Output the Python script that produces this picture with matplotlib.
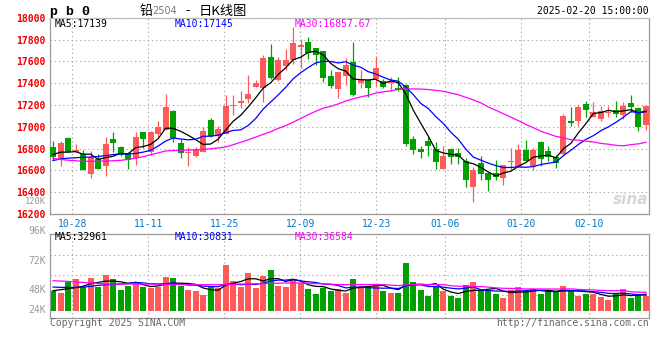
import numpy as np
import pandas as pd
import matplotlib
matplotlib.use('Agg')
import matplotlib.pyplot as plt

# ---- data (pb2504 daily, 10-23 .. 02-20) ----
opens = [16815, 16706, 16898, 16770, 16748, 16565, 16706, 16644, 16886, 16815,
         16757, 16718, 16953, 16764, 16931, 16971, 17145, 16852, 16760, 16736,
         16773, 17063, 16919, 16934, 17188, 17221, 17252, 17368, 17353, 17640,
         17426, 17560, 17612, 17734, 17777, 17722, 17695, 17466, 17350, 17466,
         17594, 17405, 17426, 17441, 17423, 17402, 17359, 17383, 16889, 16800,
         16870, 16800, 16614, 16797, 16760, 16687, 16443, 16669, 16577, 16577,
         16528, 16680, 16629, 16788, 16644, 16861, 16779, 16721, 16748, 17054,
         17054, 17206, 17093, 17069, 17130, 17151, 17105, 17218, 17170, 17017]
highs = [16870, 16870, 16907, 16843, 16788, 16779, 16748, 16904, 16950, 16820,
         16773, 16950, 16953, 16960, 17054, 17301, 17154, 16889, 16812, 16812,
         17002, 17078, 17008, 17289, 17289, 17325, 17475, 17426, 17658, 17756,
         17643, 17713, 17915, 17805, 17820, 17722, 17695, 17521, 17502, 17628,
         17774, 17521, 17426, 17649, 17438, 17457, 17457, 17392, 16919, 16828,
         16907, 16858, 16825, 16809, 16809, 16712, 16629, 16733, 16577, 16696,
         16651, 16803, 16843, 16880, 16809, 16870, 16825, 16742, 17118, 17182,
         17200, 17237, 17225, 17194, 17194, 17237, 17231, 17292, 17185, 17194]
lows = [16696, 16644, 16764, 16764, 16608, 16528, 16614, 16553, 16773, 16735,
        16614, 16650, 16809, 16742, 16910, 16971, 16858, 16718, 16644, 16727,
        16767, 16910, 16864, 16934, 17109, 17176, 17221, 17365, 17231, 17435,
        17417, 17521, 17573, 17536, 17624, 17566, 17414, 17353, 17267, 17383,
        17283, 17359, 17276, 17374, 17359, 17328, 17328, 16828, 16751, 16718,
        16736, 16614, 16614, 16663, 16660, 16452, 16306, 16516, 16415, 16516,
        16467, 16590, 16629, 16690, 16605, 16644, 16690, 16626, 16742, 17008,
        17008, 17093, 17093, 17054, 17093, 17093, 17069, 17139, 16965, 16971]
closes = [16727, 16852, 16770, 16788, 16608, 16727, 16614, 16843, 16855, 16742,
          16696, 16907, 16892, 16953, 16999, 17182, 16901, 16757, 16773, 16797,
          16962, 16919, 16980, 17191, 17200, 17234, 17301, 17399, 17634, 17450,
          17612, 17612, 17768, 17747, 17673, 17661, 17450, 17374, 17502, 17566,
          17292, 17426, 17359, 17539, 17365, 17417, 17338, 16846, 16791, 16764,
          16828, 16681, 16736, 16727, 16721, 16513, 16608, 16568, 16513, 16541,
          16651, 16690, 16788, 16690, 16788, 16702, 16727, 16672, 17102, 17038,
          17182, 17154, 17133, 17145, 17139, 17118, 17194, 17185, 17002, 17194]
volumes = [39960, 35300, 57940, 63270, 47950, 65270, 47950, 71260, 63270, 41290,
           49950, 57280, 47950, 44620, 47950, 67270, 65270, 49950, 41290, 39290,
           31300, 47950, 44620, 91240, 59270, 47950, 75260, 45290, 69260, 81250,
           49280, 47290, 63270, 55940, 43290, 33300, 44620, 39960, 43290, 35300,
           63270, 49950, 49950, 50620, 39290, 35300, 35300, 95240, 57280, 41290,
           29300, 47950, 39290, 29300, 25310, 51280, 57280, 41290, 39290, 33300,
           25310, 41290, 47290, 39290, 43290, 33300, 39290, 39290, 49280, 39290,
           29300, 33300, 33300, 27310, 21310, 33300, 43290, 25310, 33300, 29300]

# moving-average values at the left edge (need days before the window)
ma5_head = [16745, 16767, 16767, 16772]
ma10_head = [16690, 16705, 16712, 16716, 16720, 16722, 16727, 16735, 16745]
ma30_head = [16710, 16700, 16693, 16688, 16684, 16683, 16684, 16686, 16688, 16692,
             16700, 16712, 16725, 16742, 16760, 16778, 16782, 16784, 16786, 16788,
             16792, 16798, 16806, 16815, 16835, 16858, 16880, 16905, 16930]
vma5_head = [39960, 41960, 43960, 45950]
vma10_head = [47290, 46620, 46620, 46620, 47290, 48620, 50620, 51950, 52610]
vma30_head = [59940, 59270, 58610, 57280, 56610, 55280, 54610, 53280, 53280, 53280,
              53280, 53280, 53280, 53280, 53280, 52610, 52610, 51950, 51950, 51950,
              51950, 51950, 51950, 52610, 52610, 53280, 53280, 53950, 53950]

date_labels = ['10-28', '11-11', '11-25', '12-09', '12-23', '01-06', '01-20', '02-10']
date_idx = [3, 13, 23, 33, 43, 52, 62, 71]
price_ticks = list(range(16200, 18001, 200))
ma_texts = ['MA5:17139', 'MA10:17145', 'MA30:16857.67']
vma_texts = ['MA5:32961', 'MA10:30831', 'MA30:36584']
vol_labels = ['96K', '72K', '48K', '24K']


def ma(values, n, head):
    s = pd.Series(values, dtype=float).rolling(n).mean().to_numpy()
    s[:n - 1] = head
    return s


RED = '#ff5a5a'
GREEN = '#00a000'
GRID = dict(color='#aaaaaa', linestyle=(0, (1.2, 2.6)), linewidth=0.8)
MONO = 'DejaVu Sans Mono'

o = np.array(opens, float)
h = np.array(highs, float)
l = np.array(lows, float)
c = np.array(closes, float)
v = np.array(volumes, float)
x = np.arange(len(c))
cols = np.where(c >= o, RED, GREEN)

W, H = 660, 360
fig = plt.figure(figsize=(W / 100, H / 100), dpi=100)


def fx(px):
    return px / W


def fy(py):
    return 1 - py / H


ax = fig.add_axes([fx(50), fy(214), fx(649.3) - fx(50), fy(17.7) - fy(214)])
axv = fig.add_axes([fx(50), fy(318), fx(649.3) - fx(50), fy(234.3) - fy(318)])

# sina spaces its date grid a little wider than the candles
tick_pos = [2.571 + 1.01292 * (i - 3) for i in date_idx]

for a in (ax, axv):
    a.set_xlim(-0.4, 79.44)
    a.set_xticks(tick_pos)
    a.xaxis.grid(True, **GRID)
    a.set_axisbelow(True)
    for s in a.spines.values():
        s.set_color('#999999')
        s.set_linewidth(0.9)
    a.tick_params(length=0)

# ---- candles ----
ax.vlines(x, l, h, colors=cols, linewidth=0.9, zorder=2)
ax.bar(x, np.maximum(np.abs(c - o), 8), bottom=np.minimum(o, c), width=0.8,
       color=cols, linewidth=0, zorder=3)
ax.plot(x, ma(c, 5, ma5_head), color='black', lw=0.9, zorder=4)
ax.plot(x, ma(c, 10, ma10_head), color='#0000ff', lw=0.9, zorder=4)
ax.plot(x, ma(c, 30, ma30_head), color='#ff00ff', lw=0.9, zorder=4)

ax.set_ylim(16200, 18000)
ax.set_yticks(price_ticks)
ax.yaxis.grid(True, **GRID)
ax.set_yticklabels([str(t) for t in price_ticks], color='#ee0000',
                   fontsize=7, family=MONO, weight='bold')
ax.tick_params(axis='y', pad=3)
ax.set_xticklabels(date_labels, color='#0078c8', fontsize=7, family=MONO)
ax.tick_params(axis='x', pad=3.5)
ax.spines['top'].set_color('#bbbbbb')

# ---- volume ----
axv.bar(x, v, width=0.8, color=cols, linewidth=0, zorder=2)
axv.plot(x, ma(v, 5, vma5_head), color='black', lw=0.9, zorder=3)
axv.plot(x, ma(v, 10, vma10_head), color='#0000ff', lw=0.9, zorder=3)
axv.plot(x, ma(v, 30, vma30_head), color='#ff00ff', lw=0.9, zorder=3)
axv.set_ylim(-14600, 152650)
axv.set_yticks([30800, 70700, 110700])
axv.yaxis.grid(True, **GRID)
axv.set_yticklabels([])
axv.set_xticklabels([])

# ---- texts ----
fig.text(fx(50.5), fy(11.5), 'p b 0', family='Liberation Mono', weight='bold',
         fontsize=9.5, va='center', ha='left')
fig.text(fx(140), fy(11), '铅', family=['Noto Sans CJK SC', 'DejaVu Sans'],
         fontsize=9.5, va='center', ha='left')
fig.text(fx(152.5), fy(11.5), '2504', family='DejaVu Sans', fontsize=7,
         color='#777777', va='center', ha='left')
fig.text(fx(187.5), fy(11), '-', family=['Noto Sans CJK SC', 'DejaVu Sans'],
         fontsize=9.5, va='center', ha='center')
fig.text(fx(199), fy(11), '日K线图', family=['Noto Sans CJK SC', 'DejaVu Sans'],
         fontsize=9.5, va='center', ha='left')
fig.text(fx(649), fy(11.5), '2025-02-20 15:00:00', family=MONO, fontsize=7,
         va='center', ha='right')

for txt, px, col in zip(ma_texts, [55, 175, 295], ['black', '#0000ff', '#ff00ff']):
    fig.text(fx(px), fy(23.7), txt, family=MONO, fontsize=7, color=col, va='center')
for txt, px, col in zip(vma_texts, [55, 175, 295], ['black', '#0000ff', '#ff00ff']):
    fig.text(fx(px), fy(237.3), txt, family=MONO, fontsize=7, color=col, va='center')

for txt, py in zip(vol_labels, [230.7, 260.5, 290.3, 310.3]):
    fig.text(fx(46), fy(py), txt, family=MONO, fontsize=7, color='#999999',
             va='center', ha='right')
fig.text(fx(46), fy(202), '120K', family=MONO, fontsize=6.2, color='#999999',
         va='center', ha='right')

fig.text(fx(50), fy(323), 'Copyright 2025 SINA.COM', family=MONO, fontsize=7,
         color='#666666', va='center', ha='left')
fig.text(fx(649.3), fy(323), 'http://finance.sina.com.cn', family=MONO, fontsize=7,
         color='#666666', va='center', ha='right')
fig.text(fx(648), fy(200), 'sina', family='DejaVu Sans', fontsize=11, style='italic',
         weight='bold', color='#d6d6d6', va='center', ha='right', zorder=0)

fig.savefig('out.png', dpi=100)
